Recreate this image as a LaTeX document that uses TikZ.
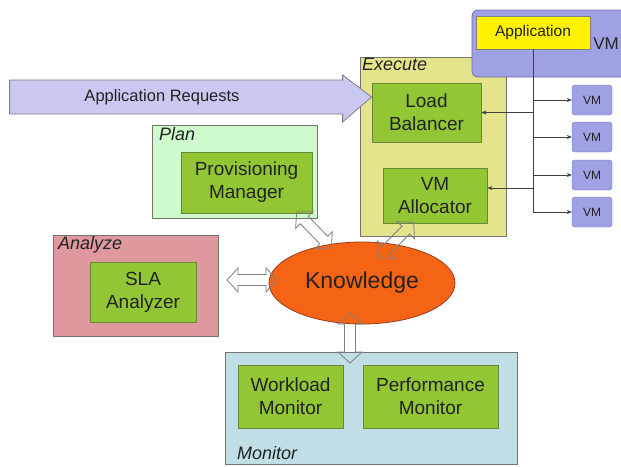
\documentclass[tikz,border=0pt]{standalone}
\usepackage{fontspec}
\setmainfont{Liberation Sans}
\usetikzlibrary{shapes.geometric,arrows.meta}
\definecolor{compfill}{RGB}{146,198,52}
\definecolor{compborder}{RGB}{105,135,55}
\definecolor{execfill}{RGB}{228,228,140}
\definecolor{planfill}{RGB}{206,250,206}
\definecolor{anafill}{RGB}{222,152,158}
\definecolor{monfill}{RGB}{192,222,230}
\definecolor{kfill}{RGB}{245,100,20}
\definecolor{kborder}{RGB}{150,60,30}
\definecolor{vmfill}{RGB}{160,160,228}
\definecolor{vmborder}{RGB}{110,110,170}
\definecolor{reqfill}{RGB}{200,200,240}
\definecolor{txt}{RGB}{35,35,35}
\begin{document}
\begin{tikzpicture}[x=1pt,y=-1pt,
  stage/.style={draw=gray!90!black, line width=0.8pt, inner sep=0},
  comp/.style={draw=compborder, fill=compfill, line width=0.8pt, align=center,
    text=txt, font=\fontsize{19}{23}\selectfont, inner sep=0},
  lbl/.style={font=\fontsize{18}{20}\selectfont\itshape, text=txt, inner sep=1pt},
  vmbox/.style={draw=vmborder, fill=vmfill, rounded corners=3pt, text=txt,
    font=\fontsize{12}{14}\selectfont, minimum width=40pt, minimum height=30pt, inner sep=0},
  conn/.style={draw=black!75, line width=0.6pt},
  darr/.pic={\draw[gray, line width=0.8pt, line join=miter]
    (-25,0) -- (-14,12) -- (-14,5.5) -- (14,5.5) -- (14,12) -- (25,0)
    -- (14,-12) -- (14,-5.5) -- (-14,-5.5) -- (-14,-12) -- cycle;}]
\useasboundingbox (0,0) rectangle (621,466);
\clip (0,0) rectangle (621,466);
% stages
\node[stage, fill=execfill, minimum width=146pt, minimum height=179pt] (exec) at (433,146.5) {};
\node[stage, fill=planfill, minimum width=165pt, minimum height=93pt] (plan) at (234.5,171.5) {};
\node[stage, fill=anafill, minimum width=165pt, minimum height=101pt] (analyze) at (135.5,285.5) {};
\node[stage, fill=monfill, minimum width=292pt, minimum height=112pt] (monitor) at (371,408) {};
\node[lbl, anchor=north west] (execl) at (361,57) {Execute};
\node[lbl, anchor=north west] (planl) at (158,126) {Plan};
\node[lbl, anchor=north west] (anal) at (57,235) {Analyze};
\node[lbl, anchor=base west] (monl) at (236,459) {Monitor};
% components
\node[comp, minimum width=109pt, minimum height=59pt] (lb) at (426.5,112.5) {Load\\Balancer};
\node[comp, minimum width=104pt, minimum height=55pt] (alloc) at (435,195.5) {VM\\Allocator};
\node[comp, minimum width=131pt, minimum height=61pt] (prov) at (246.5,182.5) {Provisioning\\Manager};
\node[comp, minimum width=106pt, minimum height=60pt] (sla) at (143,292) {SLA\\Analyzer};
\node[comp, minimum width=105pt, minimum height=63pt] (work) at (290.5,396.5) {Workload\\Monitor};
\node[comp, minimum width=135pt, minimum height=63pt] (perf) at (430.5,396.5) {Performance\\Monitor};
% knowledge
\node[ellipse, draw=kborder, fill=kfill, line width=0.8pt, minimum width=186pt, minimum height=82pt,
  text=txt, font=\fontsize{23}{26}\selectfont] (know) at (362,283) {Knowledge};
% application requests arrow (tip at the load balancer's left side)
\coordinate (reqtip) at (lb.west |- 0,97);
\draw[gray, line width=0.8pt, fill=reqfill, line join=miter] (reqtip)
  -- ++(-29,-22) -- ++(0,5) -- ++(-333,0) -- ++(0,34) -- ++(333,0) -- ++(0,8) -- cycle;
\node[font=\fontsize{16.5}{18}\selectfont, text=txt] (reqt) at (162,97) {Application Requests};
% VM big
\node[draw=vmborder, fill=vmfill, rounded corners=6pt, line width=0.8pt, minimum width=168pt, minimum height=67pt, inner sep=0] (vmbig) at (556,43.5) {};
\node[font=\fontsize{17}{19}\selectfont, text=txt] (vmbigt) at (606,44) {VM};
\node[draw=gray, fill=yellow, line width=0.8pt, minimum width=114pt, minimum height=33pt, inner sep=0,
  text=txt, font=\fontsize{15.5}{17}\selectfont] (app) at (533,32.5) {Application};
% small VMs
\node[vmbox] (vm1) at (592,100) {VM};
\node[vmbox] (vm2) at (592,137) {VM};
\node[vmbox] (vm3) at (592,175) {VM};
\node[vmbox] (vm4) at (592,212) {VM};
% connectors
\draw[conn] (app.south) -- (app.south |- vm4.west);
\foreach \v in {vm1,vm2,vm3,vm4}
  \draw[conn, -{Stealth[length=5pt,width=4pt]}] (app.south |- \v.west) -- (\v.west);
\draw[conn, -{Stealth[length=5pt,width=4pt]}] (app.south |- lb.east) -- (lb.east);
\draw[conn, -{Stealth[length=5pt,width=4pt]}] (app.south |- 0,188) -- (alloc.east |- 0,188);
% double arrows
\pic[rotate=-46] (pk) at (314,230) {darr};
\pic[rotate=45] (ak) at (396,240) {darr};
\pic (sk) at (252,280) {darr};
\pic[rotate=90] (km) at (350,338) {darr};
\end{tikzpicture}
\end{document}
